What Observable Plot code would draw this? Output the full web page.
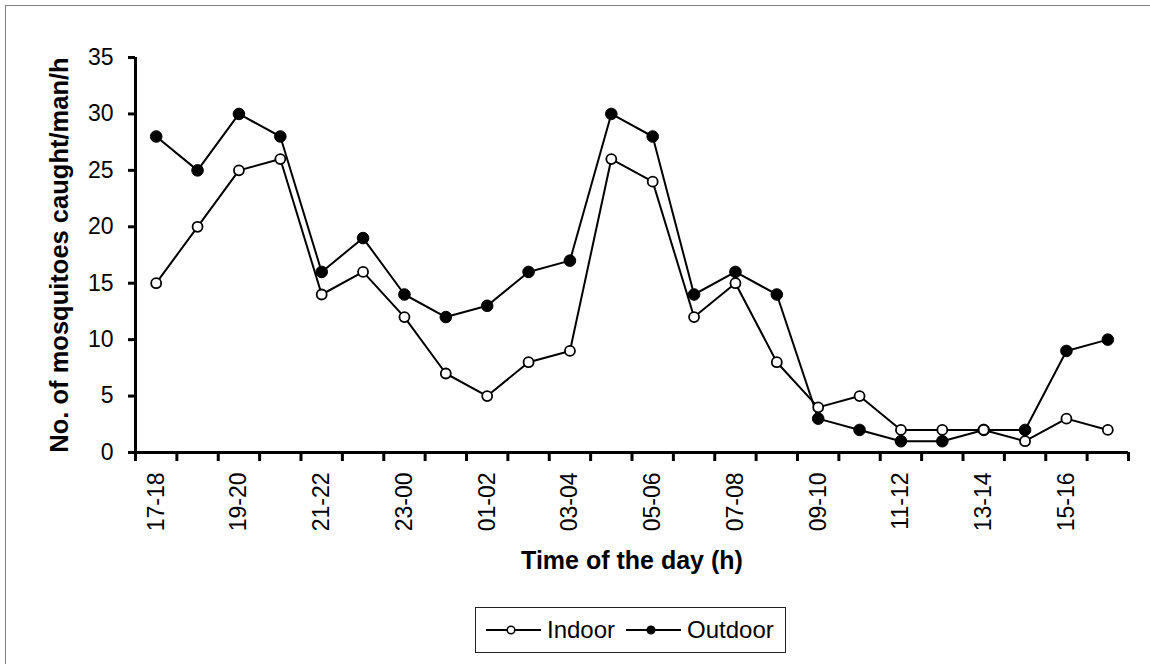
<!DOCTYPE html>
<html>
<head>
<meta charset="utf-8">
<script src="https://cdn.jsdelivr.net/npm/d3@7"></script>
<script src="https://cdn.jsdelivr.net/npm/@observablehq/plot@0.6"></script>
<style>
  html, body { margin: 0; padding: 0; background: #fff; overflow: hidden; }
  body { width: 1150px; height: 664px; position: relative; font-family: "Liberation Sans", Arial, sans-serif; }
  #frame { position: absolute; left: 5px; top: 5px; width: 1170px; height: 700px; border: 1.5px solid #808080; box-sizing: border-box; }
  #chart { position: absolute; left: 0; top: 0; }
  #legend { position: absolute; left: 475px; top: 607px; width: 311px; height: 46px; border: 1.5px solid #222; box-sizing: border-box; background: #fff; }
  #legend svg { position: absolute; left: 0; top: 0; }
</style>
</head>
<body>
<div id="frame"></div>
<div id="chart"></div>
<div id="legend"></div>
<script>
const categories = ["17-18","18-19","19-20","20-21","21-22","22-23","23-00","00-01","01-02","02-03","03-04","04-05","05-06","06-07","07-08","08-09","09-10","10-11","11-12","12-13","13-14","14-15","15-16","16-17"];
const indoor  = [15, 20, 25, 26, 14, 16, 12, 7, 5, 8, 9, 26, 24, 12, 15, 8, 4, 5, 2, 2, 2, 1, 3, 2];
const outdoor = [28, 25, 30, 28, 16, 19, 14, 12, 13, 16, 17, 30, 28, 14, 16, 14, 3, 2, 1, 1, 2, 2, 9, 10];
const yTicks = [0, 5, 10, 15, 20, 25, 30, 35];
const seriesNames = ["Indoor", "Outdoor"];
const yTitle = "No. of mosquitoes caught/man/h";
const xTitle = "Time of the day (h)";

const rows = categories.map((c, i) => ({i, c, indoor: indoor[i], outdoor: outdoor[i]}));
const labelIdx = categories.map((c, i) => i).filter(i => i % 2 === 0);
const bounds = categories.map((c, i) => i - 0.5).concat([categories.length - 0.5]);

const chart = Plot.plot({
  width: 1150,
  height: 664,
  marginLeft: 135,
  marginRight: 22,
  marginTop: 57,
  marginBottom: 212,
  style: {fontFamily: "'Liberation Sans', Arial, sans-serif", fontSize: "22.5px", color: "#000", background: "transparent", overflow: "visible"},
  x: {type: "linear", domain: [-0.5, categories.length - 0.5]},
  y: {domain: [0, 35]},
  marks: [
    Plot.axisY({ticks: yTicks, tickSize: 7, tickPadding: 15, strokeWidth: 3, label: null, fontSize: 23}),
    Plot.axisX({ticks: bounds, tickSize: 9, tickFormat: () => "", strokeWidth: 3, label: null}),
    Plot.axisX({ticks: labelIdx, tickSize: 0, tickPadding: 20, tickRotate: -90, tickFormat: i => categories[i], label: null, fontSize: 23}),
    Plot.ruleY([0], {strokeWidth: 3}),
    Plot.ruleX([-0.5], {y1: 0, y2: 35, strokeWidth: 3}),
    Plot.line(rows, {x: "i", y: "outdoor", stroke: "#000", strokeWidth: 2}),
    Plot.line(rows, {x: "i", y: "indoor", stroke: "#000", strokeWidth: 2}),
    Plot.dot(rows, {x: "i", y: "outdoor", r: 5.8, fill: "#000", stroke: "#000", strokeWidth: 1}),
    Plot.dot(rows, {x: "i", y: "indoor", r: 5, fill: "#fff", stroke: "#000", strokeWidth: 1.8}),
    Plot.text([yTitle], {frameAnchor: "left", dx: -76, rotate: -90, text: d => d, fontSize: 25.5, fontWeight: "bold", textAnchor: "middle", lineAnchor: "middle"}),
    Plot.text([xTitle], {frameAnchor: "bottom", dy: 108, text: d => d, fontSize: 25, fontWeight: "bold", textAnchor: "middle", lineAnchor: "middle"})
  ]
});
document.getElementById("chart").appendChild(chart);

// Legend
const lg = d3.select("#legend").append("svg").attr("width", 311).attr("height", 46);
const items = [
  {name: seriesNames[0], x0: 10, fill: "#fff"},
  {name: seriesNames[1], x0: 150, fill: "#000"}
];
items.forEach(it => {
  lg.append("line").attr("x1", it.x0).attr("x2", it.x0 + 55).attr("y1", 22).attr("y2", 22).attr("stroke", "#000").attr("stroke-width", 2);
  lg.append("circle").attr("cx", it.x0 + 25).attr("cy", 22).attr("r", 3.8).attr("fill", it.fill).attr("stroke", "#000").attr("stroke-width", 1.5);
  lg.append("text").attr("x", it.x0 + 61).attr("y", 22).attr("dy", "0.35em").attr("font-size", 24).attr("font-family", "'Liberation Sans', Arial, sans-serif").attr("fill", "#000").text(it.name);
});
</script>
</body>
</html>
